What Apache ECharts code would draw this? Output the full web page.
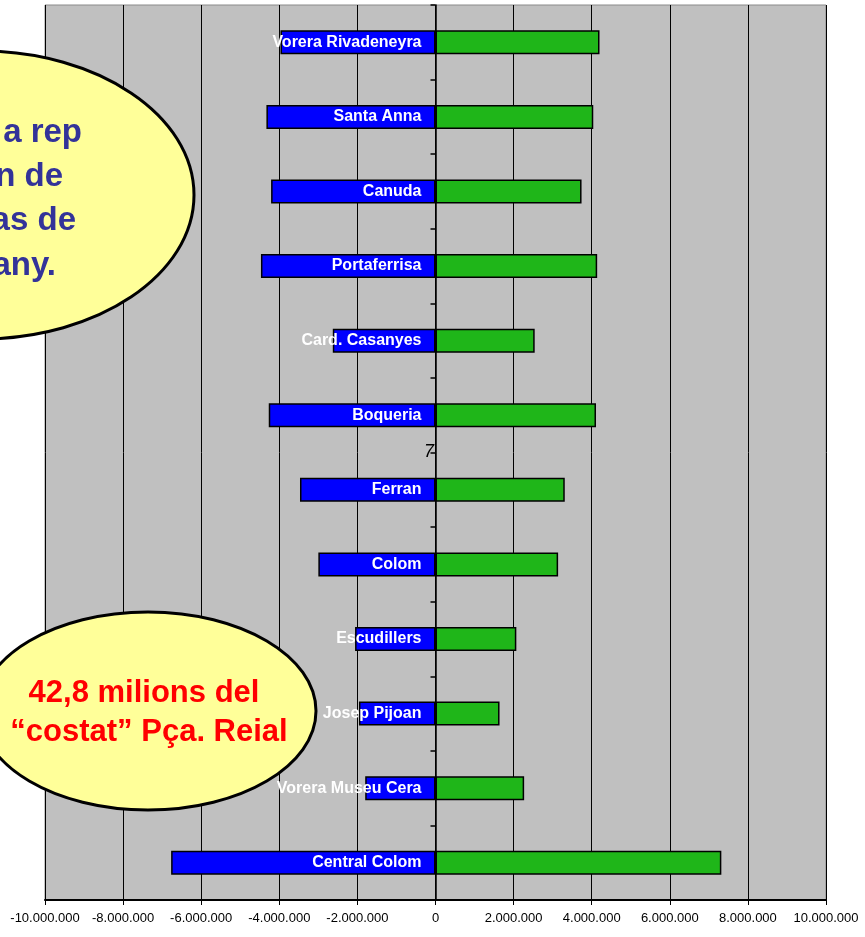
<!DOCTYPE html>
<html>
<head>
<meta charset="utf-8">
<script src="https://cdn.jsdelivr.net/npm/echarts@6/dist/echarts.min.js"></script>
<style>
html,body{margin:0;padding:0;background:#fff;}
#c{width:865px;height:937px;}
</style>
</head>
<body>
<div id="c"></div>
<script>
const categories = ['Vorera Rivadeneyra','Santa Anna','Canuda','Portaferrisa','Card. Casanyes','Boqueria','Ferran','Colom','Escudillers','Josep Pijoan','Vorera Museu Cera','Central Colom'];
const negativeValues = [-3970000,-4330000,-4210000,-4470000,-2630000,-4270000,-3470000,-3000000,-2060000,-1960000,-1800000,-6770000];
const positiveValues = [4200000,4040000,3740000,4140000,2540000,4110000,3310000,3140000,2070000,1640000,2270000,7320000];
const xTicks = {min:-10000000, max:10000000, interval:2000000};

function fmt(v){
  const neg = v < 0;
  let s = Math.abs(v).toString().replace(/\B(?=(\d{3})+(?!\d))/g, '.');
  return (neg ? '-' : '') + s;
}

const chart = echarts.init(document.getElementById('c'));
const sans = "'Liberation Sans',Arial,sans-serif";
chart.setOption({
  backgroundColor:'#ffffff',
  animation:false,
  grid:{left:45,right:39,top:5,bottom:37,show:true,backgroundColor:'#c0c0c0',borderColor:'#8a8a8a',borderWidth:1},
  xAxis:{
    type:'value', min:xTicks.min, max:xTicks.max, interval:xTicks.interval,
    axisLine:{show:true,lineStyle:{color:'#000',width:2}},
    axisTick:{show:true,length:5,lineStyle:{color:'#000',width:1}},
    splitLine:{show:true,lineStyle:{color:'#000',width:1}},
    axisLabel:{formatter:fmt,color:'#000',fontFamily:sans,fontSize:13,margin:12}
  },
  yAxis:{
    type:'category', data:categories, inverse:true,
    axisLine:{show:true,onZero:true,lineStyle:{color:'#000',width:1.5}},
    axisTick:{show:true,length:5,lineStyle:{color:'#000',width:1.5}},
    axisLabel:{show:false},
    splitLine:{show:false}
  },
  series:[
    {
      type:'bar', data:negativeValues, barWidth:24, barGap:'-100%',
      itemStyle:{color:'#0000ff',borderColor:'#000',borderWidth:1.5},
      label:{show:true,position:'insideRight',distance:14,formatter:p=>categories[p.dataIndex],
        color:'#fff',fontWeight:'bold',fontSize:16,fontFamily:sans,letterSpacing:-0.3},
      z:3
    },
    {
      type:'bar', data:positiveValues, barWidth:24,
      itemStyle:{color:'#1fb619',borderColor:'#000',borderWidth:1.5},
      z:2
    }
  ],
  graphic:[
    {type:'text',x:434,y:452,z:50,style:{text:'7',fill:'#000',font:"italic 18px "+sans,textAlign:'right',textVerticalAlign:'middle'}},
    {type:'ellipse',z:100,shape:{cx:-20,cy:195,rx:214,ry:144},style:{fill:'#ffff99',stroke:'#000',lineWidth:3}},
    {type:'text',z:101,x:82,y:133,style:{text:'a rep',fill:'#333399',font:"bold 33px "+sans,textAlign:'right',textVerticalAlign:'middle'}},
    {type:'text',z:101,x:63,y:177,style:{text:'n de',fill:'#333399',font:"bold 33px "+sans,textAlign:'right',textVerticalAlign:'middle'}},
    {type:'text',z:101,x:76,y:221,style:{text:'as de',fill:'#333399',font:"bold 33px "+sans,textAlign:'right',textVerticalAlign:'middle'}},
    {type:'text',z:101,x:56,y:266,style:{text:'any.',fill:'#333399',font:"bold 33px "+sans,textAlign:'right',textVerticalAlign:'middle'}},
    {type:'ellipse',z:100,shape:{cx:148,cy:711,rx:168,ry:99},style:{fill:'#ffff99',stroke:'#000',lineWidth:3}},
    {type:'text',z:101,x:144,y:693,style:{text:'42,8 milions del',fill:'#ff0000',font:"bold 31px "+sans,textAlign:'center',textVerticalAlign:'middle'}},
    {type:'text',z:101,x:149,y:732,style:{text:'\u201ccostat\u201d P\u00e7a. Reial',fill:'#ff0000',font:"bold 31px "+sans,textAlign:'center',textVerticalAlign:'middle'}}
  ]
});
</script>
</body>
</html>
